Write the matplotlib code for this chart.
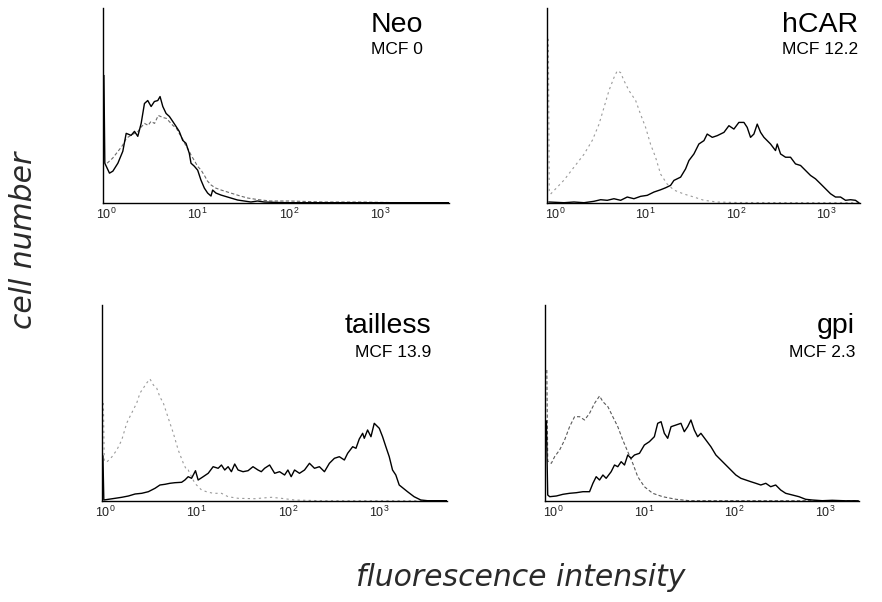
import matplotlib
matplotlib.use("Agg")
import matplotlib.pyplot as plt
import numpy as np
from matplotlib.ticker import FixedLocator, FixedFormatter, NullLocator

# ---------------- data (x in log10 fluorescence, y in cell counts) ----------------
titles = ["Neo", "hCAR", "tailless", "gpi"]
mcf_labels = ["MCF 0", "MCF 12.2", "MCF 13.9", "MCF 2.3"]
tick_values = [1, 10, 100, 1000]
tick_labels = [r"$\mathregular{10^0}$", r"$\mathregular{10^1}$",
               r"$\mathregular{10^2}$", r"$\mathregular{10^3}$"]

neo_x = [-0.025, -0.015, 0.036, 0.073, 0.128, 0.182, 0.219, 0.273, 0.31, 0.346, 0.383,
         0.419, 0.455, 0.492, 0.528, 0.565, 0.59, 0.62, 0.656, 0.692, 0.729, 0.765,
         0.80, 0.838, 0.874, 0.91, 0.929, 0.965, 1.002, 1.038, 1.075, 1.111, 1.148,
         1.166, 1.202, 1.257, 1.293, 1.366, 1.439, 1.512, 1.585, 1.658, 1.73, 1.876,
         2.02, 2.5, 3.0, 3.5, 3.75]
neo_y = [128, 40, 30, 32, 40, 52, 70, 68, 72, 67, 80, 100, 103, 97, 102, 103, 107, 97,
         90, 87, 82, 77, 72, 63, 60, 50, 40, 37, 33, 23, 15, 10, 7, 13, 10, 8, 7, 5, 3,
         2, 1, 2, 1, 0.5, 0.3, 0.3, 0.3, 0.3, 0.3]
neo_ctrl_x = [0.01, 0.07, 0.13, 0.18, 0.22, 0.27, 0.31, 0.35, 0.38, 0.42, 0.46, 0.49,
              0.53, 0.57, 0.62, 0.66, 0.69, 0.73, 0.77, 0.80, 0.84, 0.87, 0.91, 0.93,
              0.97, 1.00, 1.04, 1.08, 1.11, 1.15, 1.20, 1.26, 1.33, 1.40, 1.47, 1.55,
              1.62, 1.70, 1.80, 2.0, 2.4, 2.8, 3.2, 3.75]
neo_ctrl_y = [40, 45, 52, 58, 65, 68, 70, 72, 76, 80, 78, 82, 80, 88, 86, 85, 82, 78,
              75, 70, 64, 58, 52, 48, 42, 37, 33, 27, 22, 18, 15, 13, 11, 9, 7, 5, 4, 3,
              2, 2, 1, 1, 0.3, 0.3]

hcar_x = [-0.068, 0.098, 0.208, 0.319, 0.429, 0.503, 0.576, 0.65, 0.724, 0.797, 0.871,
          0.945, 1.018, 1.092, 1.166, 1.221, 1.276, 1.313, 1.387, 1.442, 1.479, 1.534,
          1.589, 1.645, 1.681, 1.737, 1.792, 1.866, 1.921, 1.976, 2.031, 2.087, 2.123,
          2.16, 2.197, 2.234, 2.271, 2.308, 2.344, 2.381, 2.436, 2.455, 2.492, 2.547,
          2.602, 2.657, 2.713, 2.768, 2.823, 2.878, 2.934, 2.989, 3.044, 3.099, 3.155,
          3.21, 3.265, 3.32, 3.357]
hcar_y = [1, 0.3, 1, 0.3, 1.7, 3.3, 2.7, 4.3, 2.7, 6, 4.3, 6.7, 7.7, 11, 13.3, 15.3,
          17.7, 22.7, 26, 34.3, 42.7, 49.3, 59.3, 62.7, 69.3, 66, 67.7, 71, 77.7, 74.3,
          81, 81, 76, 66, 69.3, 79.3, 71, 66, 62.7, 59.3, 52.7, 59.3, 49.3, 46, 46, 39.3,
          37.7, 32.7, 27.7, 24.3, 19.3, 14.3, 9.3, 6, 6, 2.7, 3.3, 2.7, 0.3]
hcar_ctrl_x = [-0.075, -0.065, -0.05, 0.024, 0.098, 0.208, 0.319, 0.411, 0.484, 0.54,
               0.595, 0.65, 0.687, 0.724, 0.761, 0.816, 0.89, 0.945, 1.0, 1.055, 1.11,
               1.166, 1.239, 1.313, 1.424, 1.534, 1.645, 1.792, 2.0, 3.36]
hcar_ctrl_y = [165, 12, 9, 16, 23, 36, 49, 63, 79, 96, 113, 126, 133, 131, 123, 113, 103,
               89, 76, 59, 46, 29, 19, 13, 9, 6, 2.7, 1, 0.5, 0.3]

tail_x = [-0.025, -0.015, 0.036, 0.109, 0.181, 0.254, 0.327, 0.4, 0.472, 0.545, 0.599,
          0.654, 0.708, 0.763, 0.836, 0.872, 0.908, 0.945, 0.988, 1.017, 1.072, 1.127,
          1.181, 1.236, 1.272, 1.308, 1.345, 1.381, 1.417, 1.454, 1.508, 1.563, 1.617,
          1.672, 1.708, 1.744, 1.799, 1.854, 1.908, 1.963, 1.999, 2.035, 2.072, 2.126,
          2.181, 2.235, 2.29, 2.344, 2.399, 2.453, 2.508, 2.562, 2.617, 2.653, 2.708,
          2.744, 2.78, 2.817, 2.835, 2.871, 2.908, 2.944, 2.999, 3.035, 3.071, 3.108,
          3.144, 3.18, 3.217, 3.308, 3.38, 3.453, 3.526, 3.75]
tail_y = [45, 1, 1.7, 2.7, 3.7, 5, 7, 7.7, 9.3, 12.7, 16, 16.7, 17.7, 18.3, 18.7, 21,
          24.3, 22.7, 30.3, 21, 24.3, 27.7, 34.3, 32.7, 36, 31, 34.3, 29.3, 37, 31, 29.3,
          30.3, 34.3, 31, 29.3, 32.7, 36, 27.7, 29.3, 26, 31, 24.3, 31, 27.7, 31, 37.7,
          32.7, 34.3, 29.3, 37.7, 42.7, 44.3, 41, 47.7, 54.3, 52.7, 62, 67.7, 62.7, 71,
          64.3, 77.7, 72.7, 64.3, 54.3, 44.3, 31, 26, 16, 9.3, 4.3, 1, 0.3, 0.3]
tail_ctrl_x = [-0.02, -0.01, 0.018, 0.072, 0.127, 0.181, 0.236, 0.29, 0.345, 0.381,
               0.418, 0.454, 0.49, 0.527, 0.563, 0.599, 0.636, 0.672, 0.708, 0.745,
               0.799, 0.854, 0.89, 0.908, 0.981, 1.054, 1.108, 1.181, 1.272, 1.345,
               1.454, 1.635, 1.817, 1.926, 2.072, 2.362, 3.75]
tail_ctrl_y = [98, 40, 39, 44, 51, 61, 78, 88, 98, 108, 113, 118, 122, 116, 113, 104, 98,
               88, 78, 68, 51, 38, 31, 31, 17.7, 11, 9.3, 7.7, 7.7, 4.3, 2.7, 2.3, 3.7,
               2.7, 1, 0.3, 0.3]

gpi_x = [-0.075, -0.06, -0.038, 0.035, 0.108, 0.181, 0.255, 0.328, 0.401, 0.438, 0.474,
         0.511, 0.548, 0.584, 0.639, 0.676, 0.712, 0.749, 0.786, 0.822, 0.859, 0.896,
         0.951, 1.005, 1.06, 1.115, 1.152, 1.189, 1.225, 1.262, 1.299, 1.354, 1.408,
         1.445, 1.482, 1.518, 1.555, 1.592, 1.628, 1.683, 1.738, 1.793, 1.848, 1.903,
         1.958, 2.013, 2.068, 2.123, 2.178, 2.233, 2.288, 2.343, 2.397, 2.452, 2.507,
         2.562, 2.636, 2.709, 2.782, 2.855, 2.965, 3.075, 3.222, 3.36]
gpi_y = [80, 6, 4.3, 5, 6.7, 7.7, 8.3, 9.3, 9.3, 17.7, 24.3, 21, 26, 22.7, 29.3, 36, 34.3,
         39.3, 36, 46, 42.7, 46, 47.7, 56, 59.3, 64.3, 77.7, 79.3, 67.7, 62.7, 74.3, 76,
         77.7, 69.3, 74.3, 81, 71, 64.3, 67.7, 61, 54.3, 46, 41, 36, 31, 26, 22.7, 21,
         19.3, 17.7, 16, 17.7, 14.3, 16, 11, 7.7, 6, 4.3, 1.7, 1, 0.3, 0.7, 0.2, 0.2]
gpi_ctrl_x = [-0.07, -0.06, -0.02, 0.016, 0.071, 0.126, 0.181, 0.236, 0.291, 0.346,
              0.401, 0.456, 0.511, 0.548, 0.603, 0.657, 0.712, 0.767, 0.822, 0.877,
              0.932, 1.005, 1.097, 1.207, 1.354, 1.5, 3.36]
gpi_ctrl_y = [131, 40, 37.7, 44.3, 51, 61, 74.3, 84.3, 84.3, 81, 87.7, 97.7, 105, 99.3,
              94.3, 84.3, 74.3, 61, 49.3, 37.7, 24.3, 14.3, 7.7, 4.3, 1.7, 0.3, 0.3]

samples_x = [neo_x, hcar_x, tail_x, gpi_x]
samples_y = [neo_y, hcar_y, tail_y, gpi_y]
controls_x = [neo_ctrl_x, hcar_ctrl_x, tail_ctrl_x, gpi_ctrl_x]
controls_y = [neo_ctrl_y, hcar_ctrl_y, tail_ctrl_y, gpi_ctrl_y]

# ---------------- layout ----------------
W, H = 882, 602
fig = plt.figure(figsize=(W / 100, H / 100), dpi=100)
fig.patch.set_facecolor("white")

# pixel boxes: left, top, right, bottom
boxes = [(103, 8, 449, 203), (547, 8, 860, 203),
         (102, 305, 447, 501), (545, 305, 859, 501)]
xlims = [(-0.035, 3.755), (-0.09, 3.37), (-0.035, 3.74), (-0.09, 3.37)]
title_pos = [(423, 32, 54), (858, 32, 54), (431, 333, 357), (855, 333, 357)]
ctrl_style = [("#6a6a6a", (3, 2)), ("#9a9a9a", (2, 3)), ("#9a9a9a", (2, 3)),
              ("#5a5a5a", (3, 2))]

sans = ["Liberation Sans", "DejaVu Sans"]

for i in range(4):
    l, t, r, b = boxes[i]
    ax = fig.add_axes([l / W, 1 - b / H, (r - l) / W, (b - t) / H])
    ax.set_xscale("log")
    cx = 10 ** np.array(controls_x[i])
    sx = 10 ** np.array(samples_x[i])
    c, d = ctrl_style[i]
    ax.plot(cx, controls_y[i], color=c, lw=0.8, dashes=d)
    ax.plot(sx, samples_y[i], color="black", lw=1.0)
    ax.set_xlim(10 ** xlims[i][0], 10 ** xlims[i][1])
    ax.set_ylim(0, 196)
    for s in ["top", "right"]:
        ax.spines[s].set_visible(False)
    for s in ["left", "bottom"]:
        ax.spines[s].set_linewidth(1.0)
        ax.spines[s].set_color("black")
    ax.yaxis.set_major_locator(NullLocator())
    ax.yaxis.set_minor_locator(NullLocator())
    ax.xaxis.set_major_locator(FixedLocator(tick_values))
    ax.xaxis.set_major_formatter(FixedFormatter(tick_labels))
    ax.xaxis.set_minor_locator(NullLocator())
    ax.tick_params(axis="x", length=0, pad=2.5, labelsize=9, colors="#222222")
    for lab in ax.get_xticklabels():
        lab.set_family(sans)
    ax.patch.set_alpha(0)

    tx, ty1, ty2 = title_pos[i]
    fig.text(tx / W, 1 - ty1 / H, titles[i], ha="right", va="baseline",
             fontsize=20.5, family=sans, color="black")
    fig.text(tx / W, 1 - ty2 / H, mcf_labels[i], ha="right", va="baseline",
             fontsize=12.5, family=sans, color="black")

axis_font = ["DejaVu Sans"]
fig.text(24 / W, 1 - 240 / H, "cell number", rotation=90, ha="center", va="center",
         fontsize=21.5, family=axis_font, style="oblique", color="#2a2a2a")
fig.text(521 / W, 1 - 578 / H, "fluorescence intensity", ha="center", va="center",
         fontsize=21.5, family=axis_font, style="oblique", color="#2a2a2a")

fig.savefig("out.png", dpi=100, facecolor="white")
